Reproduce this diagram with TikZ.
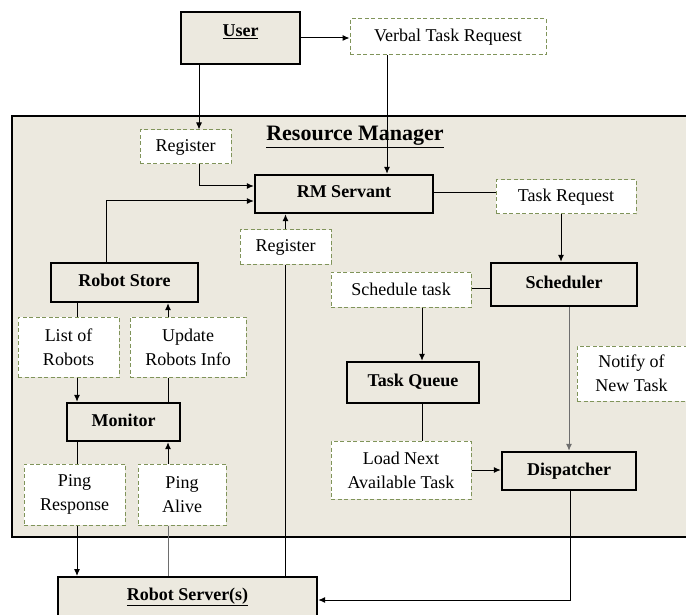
\documentclass[tikz,border=0pt]{standalone}
\usepackage{fontspec}
\setmainfont{Liberation Serif}
\usetikzlibrary{arrows.meta}
\definecolor{panel}{RGB}{236,233,223}
\definecolor{olive}{RGB}{128,148,90}
\definecolor{wire}{RGB}{110,110,110}
\begin{document}
\begin{tikzpicture}[x=1pt,y=-1pt,
  every node/.style={font=\fontsize{18}{24}\selectfont, inner sep=0pt, align=center},
  solidbox/.style={draw=black, line width=2.4pt, fill=panel, font=\fontsize{18}{24}\selectfont\bfseries,
    text height=12pt, text depth=4pt},
  msgbox/.style={draw=olive, line width=1pt, dash pattern=on 4pt off 2.5pt, fill=white},
  link/.style={line width=1pt, draw=black},
  arr/.style={link, -{Latex[length=7pt,width=6pt]}},
  greylink/.style={line width=1pt, draw=wire}
]
\useasboundingbox (0,0) rectangle (686,615);

% Resource Manager panel
\draw[line width=2.4pt, fill=panel] (12,116) rectangle (720,537);
\node[font=\fontsize{22}{26}\selectfont\bfseries] (title) at (355,137) {\underline{Resource Manager}};

% outside actors
\node[solidbox, minimum width=119pt, minimum height=52pt, text depth=14pt] (user) at (240.5,38) {\underline{User}};
\node[solidbox, anchor=north, minimum width=259pt, text height=15pt, text depth=48pt, inner ysep=8pt]
  (rserv) at (187.5,576) {\underline{Robot Server(s)}};

% components
\node[solidbox, minimum width=178pt, minimum height=38pt] (rms) at (344,194) {RM Servant};
\node[solidbox, minimum width=147pt, minimum height=39pt] (rstore) at (124.5,282.5) {Robot Store};
\node[solidbox, minimum width=146pt, minimum height=43pt] (sched) at (564,284.5) {Scheduler};
\node[solidbox, minimum width=132pt, minimum height=41pt] (tq) at (413,382.5) {Task Queue};
\node[solidbox, minimum width=113pt, minimum height=38pt] (mon) at (123.5,422) {Monitor};
\node[solidbox, minimum width=134pt, minimum height=38pt] (disp) at (569,471) {Dispatcher};

% messages
\node[msgbox, minimum width=196pt, minimum height=36pt] (verbal) at (448,37) {Verbal Task Request};
\node[msgbox, minimum width=91pt, minimum height=34pt] (reg1) at (185.5,147) {Register};
\node[msgbox, minimum width=140pt, minimum height=34pt] (taskreq) at (566,197) {Task Request};
\node[msgbox, minimum width=91pt, minimum height=34pt] (reg2) at (285.5,247) {Register};
\node[msgbox, minimum width=140pt, minimum height=35pt] (schedtask) at (401,289.5) {Schedule task};
\node[msgbox, minimum width=101pt, minimum height=60pt] (listr) at (68.5,347) {List of\\Robots};
\node[msgbox, minimum width=116pt, minimum height=60pt] (upd) at (188,347) {Update\\Robots Info};
\node[msgbox, minimum width=109pt, minimum height=55pt] (notify) at (631.5,373.5) {Notify of\\New Task};
\node[msgbox, minimum width=140pt, minimum height=58pt] (load) at (401,470) {Load Next\\Available Task};
\node[msgbox, minimum width=101pt, minimum height=61pt] (pingr) at (74.5,494.5) {Ping\\Response};
\node[msgbox, minimum width=88pt, minimum height=61pt] (pinga) at (182,494.5) {Ping\\Alive};

% connectors
\draw[arr] (user.east) -- (user.east -| verbal.west);
\draw[arr] ([xshift=-61pt]verbal.south) -- ([xshift=-61pt]verbal.south |- rms.north);
\draw[arr] ([xshift=-41.5pt]user.south) -- ([xshift=-41.5pt]user.south |- reg1.north);
\draw[arr] ([xshift=13.5pt]reg1.south) |- ([yshift=8pt]rms.west);
\draw[arr] ([xshift=-18.5pt]rstore.north) |- ([yshift=-7pt]rms.west);
\draw[link] ([yshift=1pt]rms.east) -- ([yshift=1pt]rms.east -| taskreq.west);
\draw[arr] ([xshift=-5pt]taskreq.south) -- ([xshift=-5pt]taskreq.south |- sched.north);
\draw[arr] (reg2.north) -- (reg2.north |- rms.south);
\draw[link] (reg2.south |- rserv.north) -- (reg2.south);
\draw[link] ([yshift=-3.5pt]sched.west) -- ([yshift=-3.5pt]sched.west -| schedtask.east);
\draw[arr] ([xshift=21pt]schedtask.south) -- ([xshift=21pt]schedtask.south |- tq.north);
\draw[link] ([xshift=9pt]tq.south) -- ([xshift=9pt]tq.south |- load.north);
\draw[arr] (load.east) -- (load.east -| disp.west);
\draw[greylink, -{Latex[length=7pt,width=6pt]}, fill=black] ([xshift=5pt]sched.south) -- ([xshift=5pt]sched.south |- disp.north);
\draw[arr] ([xshift=1pt]disp.south) |- ([yshift=-24pt]rserv.north east);

\draw[link] ([xshift=-47.5pt]rstore.south) -- ([xshift=-47.5pt]rstore.south |- listr.north);
\draw[arr] ([xshift=8.5pt]listr.south) -- ([xshift=8.5pt]listr.south |- mon.north);
\draw[arr] ([xshift=-20pt]upd.north) -- ([xshift=-20pt]upd.north |- rstore.south);
\draw[link] ([xshift=44.5pt]mon.north) -- ([xshift=44.5pt]mon.north |- upd.south);
\draw[link] ([xshift=-46.5pt]mon.south) -- ([xshift=-46.5pt]mon.south |- pingr.north);
\draw[arr] ([xshift=-14pt]pinga.north) -- ([xshift=-14pt]pinga.north |- mon.south);
\draw[arr] ([xshift=2.5pt]pingr.south) -- ([xshift=2.5pt]pingr.south |- rserv.north);
\draw[greylink] ([xshift=-14pt]pinga.south |- rserv.north) -- ([xshift=-14pt]pinga.south);
\end{tikzpicture}
\end{document}
